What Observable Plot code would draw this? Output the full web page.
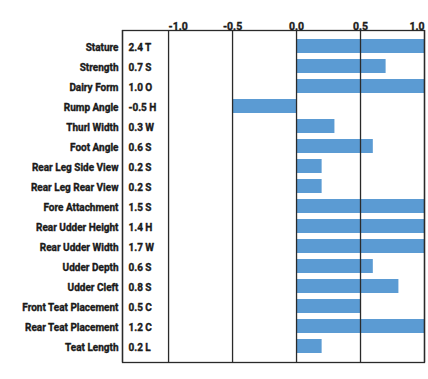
<!DOCTYPE html>
<html>
<head>
<meta charset="utf-8">
<script src="https://cdn.jsdelivr.net/npm/d3@7"></script>
<script src="https://cdn.jsdelivr.net/npm/@observablehq/plot@0.6"></script>
<style>
  html, body { margin: 0; padding: 0; background: #fff; }
  #chart svg { display: block; }
</style>
</head>
<body>
<div id="chart"></div>
<script>
const traits = ["Stature", "Strength", "Dairy Form", "Rump Angle", "Thurl Width", "Foot Angle",
  "Rear Leg Side View", "Rear Leg Rear View", "Fore Attachment", "Rear Udder Height",
  "Rear Udder Width", "Udder Depth", "Udder Cleft", "Front Teat Placement",
  "Rear Teat Placement", "Teat Length"];
const values = [2.4, 0.7, 1.0, -0.5, 0.3, 0.6, 0.2, 0.2, 1.5, 1.4, 1.7, 0.6, 0.8, 0.5, 1.2, 0.2];
const codes = ["T", "S", "O", "H", "W", "S", "S", "S", "S", "H", "W", "S", "S", "C", "C", "L"];
const tickValues = [-1.0, -0.5, 0.0, 0.5, 1.0];
const tickLabels = ["-1.0", "-0.5", "0.0", "0.5", "1.0"];

const data = traits.map((t, i) => ({trait: t, value: values[i], label: values[i].toFixed(1) + " " + codes[i]}));
const ticks = tickValues.map((v, i) => ({v, label: tickLabels[i]}));

const font = "Roboto, 'Liberation Sans', sans-serif";
const ink = "#1a1a1a";
const line = "#2a2a2a";
const txt = {fill: ink, stroke: ink, strokeWidth: 0.35, fontWeight: "bold"};

const chart = Plot.plot({
  width: 428,
  height: 379,
  marginLeft: 122,
  marginRight: 4,
  marginTop: 30,
  marginBottom: 17,
  style: {fontFamily: font, fontWeight: "bold", background: "#fff"},
  // the value column occupies the region left of -1.0 inside the framed box
  x: {domain: [-1.36, 1], clamp: true, axis: null},
  y: {domain: traits, axis: null, paddingInner: 0.32, paddingOuter: 0.16},
  marks: [
    Plot.barX(data, {y: "trait", x1: 0, x2: "value", fill: "#5b9bd3"}),
    Plot.ruleX([-1.36, -1, -0.5, 0, 0.5, 1], {stroke: line, strokeWidth: 1.3}),
    Plot.frame({stroke: line, strokeWidth: 1.3}),
    Plot.text(data, {y: "trait", text: "trait", frameAnchor: "left", dx: -4, textAnchor: "end",
      fontSize: 10, letterSpacing: -0.35, dy: 1, ...txt}),
    Plot.text(data, {y: "trait", text: "label", frameAnchor: "left", dx: 6, textAnchor: "start",
      fontSize: 10, letterSpacing: -0.35, dy: 1, ...txt}),
    Plot.text(ticks.slice(0, 1), {x: "v", text: "label", frameAnchor: "top", dy: -8, textAnchor: "start",
      fontSize: 10.5, letterSpacing: -0.3, ...txt}),
    Plot.text(ticks.slice(1, 4), {x: "v", text: "label", frameAnchor: "top", dy: -8, textAnchor: "middle",
      fontSize: 10.5, letterSpacing: -0.3, ...txt}),
    Plot.text(ticks.slice(4), {x: "v", text: "label", frameAnchor: "top", dy: -8, textAnchor: "end",
      fontSize: 10.5, letterSpacing: -0.3, ...txt})
  ]
});
document.getElementById("chart").appendChild(chart);
</script>
</body>
</html>
